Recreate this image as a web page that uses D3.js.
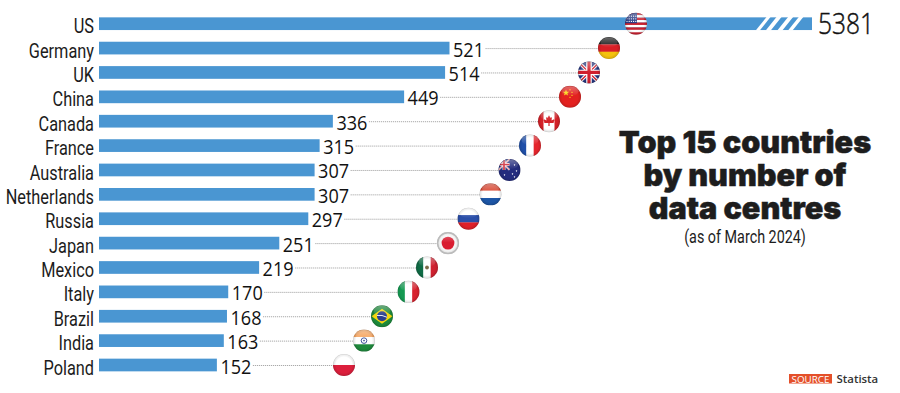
<!DOCTYPE html>
<html><head><meta charset="utf-8">
<script src="https://cdn.jsdelivr.net/npm/d3@7/dist/d3.min.js"></script>
<style>html,body{margin:0;padding:0;background:#fff}svg{display:block}</style>
</head><body><svg id="c" width="900" height="393"></svg>
<script>
const countries = ["US","Germany","UK","China","Canada","France","Australia","Netherlands","Russia","Japan","Mexico","Italy","Brazil","India","Poland"];
const counts = [5381,521,514,449,336,315,307,307,297,251,219,170,168,163,152];
const titleLines = ["Top 15 countries","by number of","data centres"];
const subtitle = "(as of March 2024)";
const sourceTag = "SOURCE";
const sourceName = "Statista";

// layout, kept apart from the data
const flagCentres = [636,609,589,570,549,530,509.5,490.5,468.5,448,427,408.5,382,364,344];
const flagR = 11, barH = 12.7, BLUE = "#4a96d2";
const barStart = 99;

const svg = d3.select("#c");
// the picture's axis is broken past Germany and does not begin at zero
const x = d3.scaleLinear().domain([-35,521,5381]).range([barStart,449.5,812]);
const y = d3.scalePoint().domain(countries).range([23.7,365]);

const defs = svg.append("defs");
const gloss = defs.append("radialGradient").attr("id","gloss").attr("cx","50%").attr("cy","50%").attr("r","50%");
gloss.append("stop").attr("offset","0.72").attr("stop-color","#000").attr("stop-opacity",0);
gloss.append("stop").attr("offset","0.92").attr("stop-color","#000").attr("stop-opacity",0.1);
gloss.append("stop").attr("offset","1").attr("stop-color","#000").attr("stop-opacity",0.24);
const sheen = defs.append("linearGradient").attr("id","sheen").attr("x1",0).attr("x2",0).attr("y1",0).attr("y2",1);
sheen.append("stop").attr("offset",0).attr("stop-color","#fff").attr("stop-opacity",0.34);
sheen.append("stop").attr("offset",1).attr("stop-color","#fff").attr("stop-opacity",0);

const sans = "Roboto,sans-serif";

// category labels, condensed horizontally
svg.append("g").selectAll("text").data(countries).join("text")
  .attr("transform",d=>`translate(94,${y(d)+9.6}) scale(.8,1)`)
  .attr("text-anchor","end").attr("font-family",sans).attr("font-size",20.4).attr("fill","#1c1c1c")
  .text(d=>d);

// leader lines
svg.append("g").selectAll("line").data(countries.slice(1)).join("line")
  .attr("x1",(d,i)=>x(counts[i+1])+36).attr("x2",(d,i)=>flagCentres[i+1])
  .attr("y1",d=>y(d)+0.5).attr("y2",d=>y(d)+0.5)
  .attr("stroke","#aaa").attr("stroke-width",1).attr("stroke-dasharray","1.2 0.8");

// bars
svg.append("g").selectAll("rect").data(countries).join("rect")
  .attr("x",barStart).attr("y",d=>y(d)-barH/2)
  .attr("width",(d,i)=>x(counts[i])-barStart).attr("height",barH).attr("fill",BLUE);

// axis-break slashes on the US bar
const by = y("US");
[[766.7,4],[776.7,5],[788.3,5],[799,4.5]].forEach(([tx,w])=>{
  svg.append("polygon").attr("fill","#fff")
    .attr("points",[[tx,by-barH/2-.5],[tx+w,by-barH/2-.5],[tx+w-11,by+barH/2+.5],[tx-11,by+barH/2+.5]].join(" "));
});

// value labels
svg.append("g").selectAll("text").data(counts).join("text")
  .attr("x",(d,i)=>i===0?818:x(d)+3.5)
  .attr("y",(d,i)=>y(countries[i])+(i===0?10.5:8.5))
  .attr("font-family","'Open Sans',sans-serif").attr("font-weight",(d,i)=>i===0?300:400)
  .attr("font-size",(d,i)=>i===0?29:20).attr("fill","#111")
  .attr("stroke",(d,i)=>i===0?"#111":"none").attr("stroke-width",.45)
  .attr("textLength",(d,i)=>i===0?56:31).attr("lengthAdjust","spacingAndGlyphs")
  .text(d=>d);

// flags
const R = flagR;
function band(g,x0,y0,w,h,c){g.append("rect").attr("x",x0).attr("y",y0).attr("width",w).attr("height",h).attr("fill",c);}
function hbands(g,cs){const h=2*R/cs.length;cs.forEach((c,i)=>band(g,-R,-R+i*h,2*R,h+.2,c));}
function vbands(g,cs){const w=2*R/cs.length;cs.forEach((c,i)=>band(g,-R+i*w,-R,w+.2,2*R,c));}
function unionJack(g,s){
  band(g,-R,-R,2*R,2*R,"#25357f");
  const l=(a,b,c,d,col,sw)=>g.append("line").attr("x1",a).attr("y1",b).attr("x2",c).attr("y2",d).attr("stroke",col).attr("stroke-width",sw);
  l(-R,-R,R,R,"#fff",3.4*s);l(-R,R,R,-R,"#fff",3.4*s);
  l(-R,-R,R,R,"#d0202e",1.3*s);l(-R,R,R,-R,"#d0202e",1.3*s);
  l(0,-R,0,R,"#fff",5.6*s);l(-R,0,R,0,"#fff",5.6*s);
  l(0,-R,0,R,"#d0202e",3.2*s);l(-R,0,R,0,"#d0202e",3.2*s);
}
const star=(r)=>d3.range(10).map(i=>{const a=i*Math.PI/5-Math.PI/2,q=i%2?r*.42:r;return [q*Math.cos(a),q*Math.sin(a)];}).join(" ");
const flags={
  US(g){
    d3.range(9).forEach(i=>band(g,-R,-R+i*2.45,2*R,2.5,i%2?"#fff":"#c8202f"));
    band(g,-R,-R,R+1,R-.5,"#2a3c86");
    d3.range(3).forEach(r=>d3.range(5).forEach(c=>g.append("circle").attr("cx",-9+c*2.2).attr("cy",-7.5+r*2.6).attr("r",.6).attr("fill","#fff")));
  },
  Germany(g){hbands(g,["#1c1c1c","#d81f26","#f4c20d"]);},
  UK(g){unionJack(g,1);},
  China(g){band(g,-R,-R,2*R,2*R,"#e3211f");
    g.append("polygon").attr("points",star(3.4)).attr("transform","translate(-4,-4)").attr("fill","#f9d616");
    [[0,-7],[2,-4.5],[2,-1.5],[0,0.5]].forEach(p=>g.append("polygon").attr("points",star(1)).attr("transform",`translate(${p})`).attr("fill","#f9d616"));},
  Canada(g){band(g,-R,-R,2*R,2*R,"#fff");band(g,-R,-R,5.5,2*R,"#d42027");band(g,R-5.5,-R,5.5,2*R,"#d42027");
    g.append("polygon").attr("fill","#d42027").attr("points","0,-6 1.4,-3.4 3,-4 2.5,-.8 5,-2 5.5,-.6 4.5,1 5,1.8 .6,1.8 .6,4.8 -.6,4.8 -.6,1.8 -5,1.8 -4.5,1 -5.5,-.6 -5,-2 -2.5,-.8 -3,-4 -1.4,-3.4");},
  France(g){vbands(g,["#1f4fa8","#fff","#e5252c"]);},
  Australia(g){band(g,-R,-R,2*R,2*R,"#242c7e");
    const u=g.append("g").attr("transform","translate(-5.5,-5.5) scale(.5)");unionJack(u,1);
    [[5,-5],[7,1],[3,4],[5,7],[-5,5]].forEach(p=>g.append("polygon").attr("points",star(1.1)).attr("transform",`translate(${p})`).attr("fill","#fff"));},
  Netherlands(g){hbands(g,["#d8432e","#fff","#1d56a6"]);},
  Russia(g){hbands(g,["#fff","#2a4ea8","#de2029"]);},
  Japan(g){band(g,-R,-R,2*R,2*R,"#f4f4f4");g.append("circle").attr("r",6.4).attr("fill","#d91c30");},
  Mexico(g){vbands(g,["#0f6b45","#fff","#cf2130"]);g.append("circle").attr("r",1.9).attr("fill","#7a6a48");},
  Italy(g){vbands(g,["#159a52","#fff","#d8232f"]);},
  Brazil(g){band(g,-R,-R,2*R,2*R,"#1d8a3c");
    g.append("polygon").attr("points","-10.5,0 0,-7.5 10.5,0 0,7.5").attr("fill","#f5d60f");
    g.append("circle").attr("r",5).attr("fill","#2a3f8e");
    g.append("path").attr("d","M-5,-.8Q0,-1.6 5,1").attr("stroke","#fff").attr("stroke-width",.9).attr("fill","none");},
  India(g){hbands(g,["#f5a15a","#fff","#1f8a3d"]);g.append("circle").attr("r",2.8).attr("fill","none").attr("stroke","#2a3f8e").attr("stroke-width",.9);g.append("circle").attr("r",.8).attr("fill","#2a3f8e");},
  Poland(g){hbands(g,["#fff","#dc1f3c"]);}
};
countries.forEach((name,i)=>{
  const cid="f"+i;
  defs.append("clipPath").attr("id",cid).append("circle").attr("r",R);
  const g=svg.append("g").attr("transform",`translate(${flagCentres[i]},${y(name)})`);
  const inner=g.append("g").attr("clip-path",`url(#${cid})`);
  flags[name](inner);
  g.append("circle").attr("r",R).attr("fill","url(#gloss)");
  g.append("ellipse").attr("cy",-5.5).attr("rx",8.5).attr("ry",5).attr("fill","url(#sheen)");
  if(name==="Japan") g.append("circle").attr("r",R-.6).attr("fill","none").attr("stroke","#bbb").attr("stroke-width",1.4);
});

// title
svg.append("g").selectAll("text").data(titleLines).join("text")
  .attr("x",745).attr("y",(d,i)=>152.8+i*33)
  .attr("text-anchor","middle").attr("font-family","Inter,Roboto,sans-serif").attr("font-weight",900)
  .attr("font-size",30.6).attr("fill","#1d1d1d").attr("stroke","#1d1d1d").attr("stroke-width",.5).text(d=>d);
svg.append("text").attr("transform","translate(745,243) scale(.82,1)").attr("text-anchor","middle")
  .attr("font-family",sans).attr("font-size",17.5).attr("fill","#1d1d1d").text(subtitle);

// source
svg.append("rect").attr("x",789).attr("y",374).attr("width",43).attr("height",9.5).attr("fill","#e4502a");
svg.append("text").attr("x",810.5).attr("y",382.6).attr("text-anchor","middle").attr("font-family","'Open Sans',sans-serif")
  .attr("font-size",9.8).attr("fill","#fff").text(sourceTag);
svg.append("text").attr("x",836.5).attr("y",383).attr("font-family","'Open Sans',sans-serif").attr("font-weight",600)
  .attr("font-size",11.4).attr("fill","#333").text(sourceName);
</script></body></html>
